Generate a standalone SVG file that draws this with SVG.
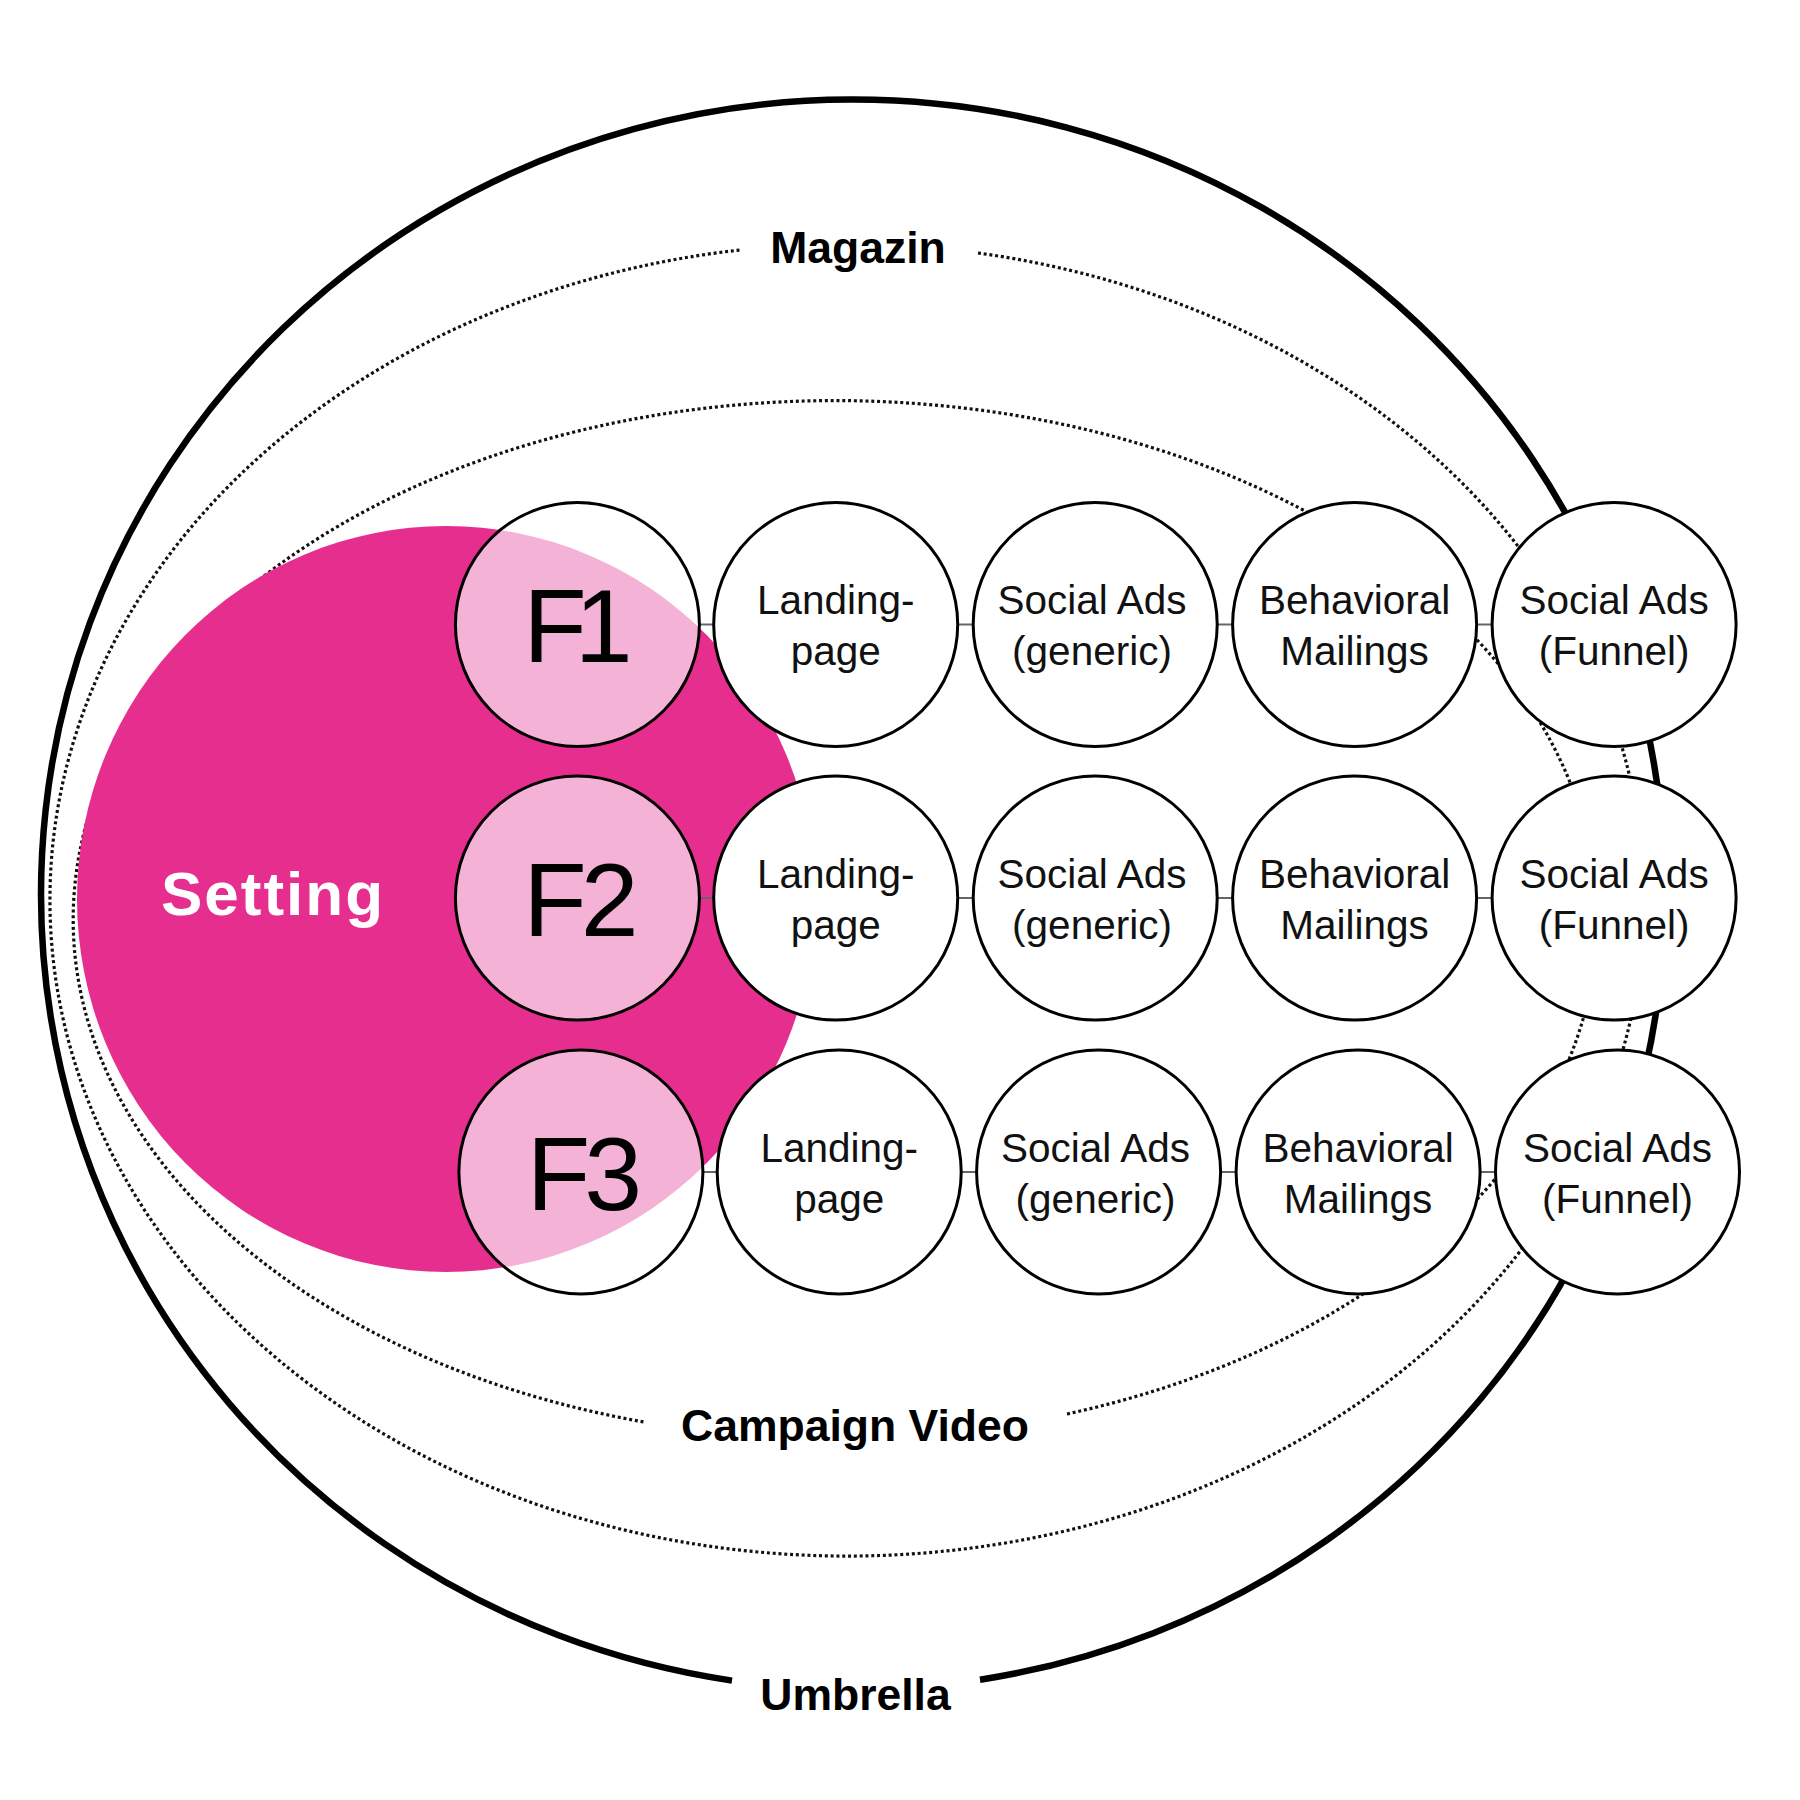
<svg xmlns="http://www.w3.org/2000/svg" width="1800" height="1800" viewBox="0 0 1800 1800">
<style>
.dot{fill:none;stroke:#111;stroke-width:3.2;stroke-dasharray:3 2.8}
.thick{fill:none;stroke:#000;stroke-width:6.5}
.node{fill:#fff;stroke:#000;stroke-width:3}
.ring{fill:none;stroke:#000;stroke-width:3}
.lbl{font-family:"Liberation Sans",Arial,sans-serif;font-weight:bold;font-size:44.5px;fill:#000;text-anchor:middle}
.t{font-family:"Liberation Sans",Arial,sans-serif;font-size:40.5px;fill:#111;text-anchor:middle}
.f{font-family:"Liberation Sans",Arial,sans-serif;font-size:104px;fill:#000;text-anchor:middle;letter-spacing:-6px}
.conn{stroke:#666;stroke-width:2}
</style>
<defs>
<clipPath id="cF1"><circle cx="577.4" cy="624.5" r="122"/></clipPath>
<clipPath id="cF2"><circle cx="577.4" cy="898" r="122"/></clipPath>
<clipPath id="cF3"><circle cx="580.9" cy="1172" r="122"/></clipPath>
</defs>
<rect width="1800" height="1800" fill="#fff"/>
<g id="frames">
<path id="magazin-ring" class="dot" d="M 978 253 A 797 656 0 1 1 740 250"/>
<path id="campaign-ring" class="dot" d="M 1067 1414 A 762 519 0 1 0 644 1422"/>
<path id="umbrella-ring" class="thick" d="M 980 1679.7 A 812 795 0 1 0 732 1680.6"/>
</g>
<g id="setting">
<ellipse cx="446" cy="899" rx="369" ry="373" fill="#E62E8E"/>
<text x="273" y="915" font-family="Liberation Sans, Arial, sans-serif" font-weight="bold" font-size="62" fill="#fff" text-anchor="middle" letter-spacing="2">Setting</text>
</g>
<g id="connectors">
<line class="conn" x1="699" y1="624.5" x2="714" y2="624.5"/>
<line class="conn" x1="958" y1="624.5" x2="973" y2="624.5"/>
<line class="conn" x1="1217" y1="624.5" x2="1233" y2="624.5"/>
<line class="conn" x1="1477" y1="624.5" x2="1492" y2="624.5"/>
<line class="conn" x1="699" y1="898" x2="714" y2="898"/>
<line class="conn" x1="958" y1="898" x2="973" y2="898"/>
<line class="conn" x1="1217" y1="898" x2="1233" y2="898"/>
<line class="conn" x1="1477" y1="898" x2="1492" y2="898"/>
<line class="conn" x1="703" y1="1172" x2="717" y2="1172"/>
<line class="conn" x1="961" y1="1172" x2="977" y2="1172"/>
<line class="conn" x1="1221" y1="1172" x2="1236" y2="1172"/>
<line class="conn" x1="1480" y1="1172" x2="1496" y2="1172"/>
</g>
<g id="F1">
<circle cx="577.4" cy="624.5" r="122" fill="#fff"/>
<ellipse cx="446" cy="899" rx="369" ry="373" fill="#F4B3D6" clip-path="url(#cF1)"/>
<circle class="ring" cx="577.4" cy="624.5" r="122"/>
<text class="f" x="572" y="662" style="letter-spacing:-12px">F1</text>
</g>
<g id="F2">
<circle cx="577.4" cy="898" r="122" fill="#fff"/>
<ellipse cx="446" cy="899" rx="369" ry="373" fill="#F4B3D6" clip-path="url(#cF2)"/>
<circle class="ring" cx="577.4" cy="898" r="122"/>
<text class="f" x="578" y="936">F2</text>
</g>
<g id="F3">
<circle cx="580.9" cy="1172" r="122" fill="#fff"/>
<ellipse cx="446" cy="899" rx="369" ry="373" fill="#F4B3D6" clip-path="url(#cF3)"/>
<circle class="ring" cx="580.9" cy="1172" r="122"/>
<text class="f" x="581.5" y="1210">F3</text>
</g>
<g id="landing1"><circle class="node" cx="835.7" cy="624.5" r="122"/><text class="t" x="835.7" y="614">Landing-</text><text class="t" x="835.7" y="665">page</text></g>
<g id="socialgen1"><circle class="node" cx="1095.2" cy="624.5" r="122"/><text class="t" x="1092" y="614">Social Ads</text><text class="t" x="1092" y="665">(generic)</text></g>
<g id="behav1"><circle class="node" cx="1354.6" cy="624.5" r="122"/><text class="t" x="1354.6" y="614">Behavioral</text><text class="t" x="1354.6" y="665">Mailings</text></g>
<g id="funnel1"><circle class="node" cx="1614.1" cy="624.5" r="122"/><text class="t" x="1614.1" y="614">Social Ads</text><text class="t" x="1614.1" y="665">(Funnel)</text></g>
<g id="landing2"><circle class="node" cx="835.7" cy="898" r="122"/><text class="t" x="835.7" y="887.5">Landing-</text><text class="t" x="835.7" y="938.5">page</text></g>
<g id="socialgen2"><circle class="node" cx="1095.2" cy="898" r="122"/><text class="t" x="1092" y="887.5">Social Ads</text><text class="t" x="1092" y="938.5">(generic)</text></g>
<g id="behav2"><circle class="node" cx="1354.6" cy="898" r="122"/><text class="t" x="1354.6" y="887.5">Behavioral</text><text class="t" x="1354.6" y="938.5">Mailings</text></g>
<g id="funnel2"><circle class="node" cx="1614.1" cy="898" r="122"/><text class="t" x="1614.1" y="887.5">Social Ads</text><text class="t" x="1614.1" y="938.5">(Funnel)</text></g>
<g id="landing3"><circle class="node" cx="839.2" cy="1172" r="122"/><text class="t" x="839.2" y="1161.5">Landing-</text><text class="t" x="839.2" y="1212.5">page</text></g>
<g id="socialgen3"><circle class="node" cx="1098.6" cy="1172" r="122"/><text class="t" x="1095.5" y="1161.5">Social Ads</text><text class="t" x="1095.5" y="1212.5">(generic)</text></g>
<g id="behav3"><circle class="node" cx="1358.1" cy="1172" r="122"/><text class="t" x="1358.1" y="1161.5">Behavioral</text><text class="t" x="1358.1" y="1212.5">Mailings</text></g>
<g id="funnel3"><circle class="node" cx="1617.5" cy="1172" r="122"/><text class="t" x="1617.5" y="1161.5">Social Ads</text><text class="t" x="1617.5" y="1212.5">(Funnel)</text></g>
<g id="labels">
<text class="lbl" x="858" y="263">Magazin</text>
<text class="lbl" x="855" y="1441">Campaign Video</text>
<text class="lbl" x="855.5" y="1710">Umbrella</text>
</g>
</svg>
